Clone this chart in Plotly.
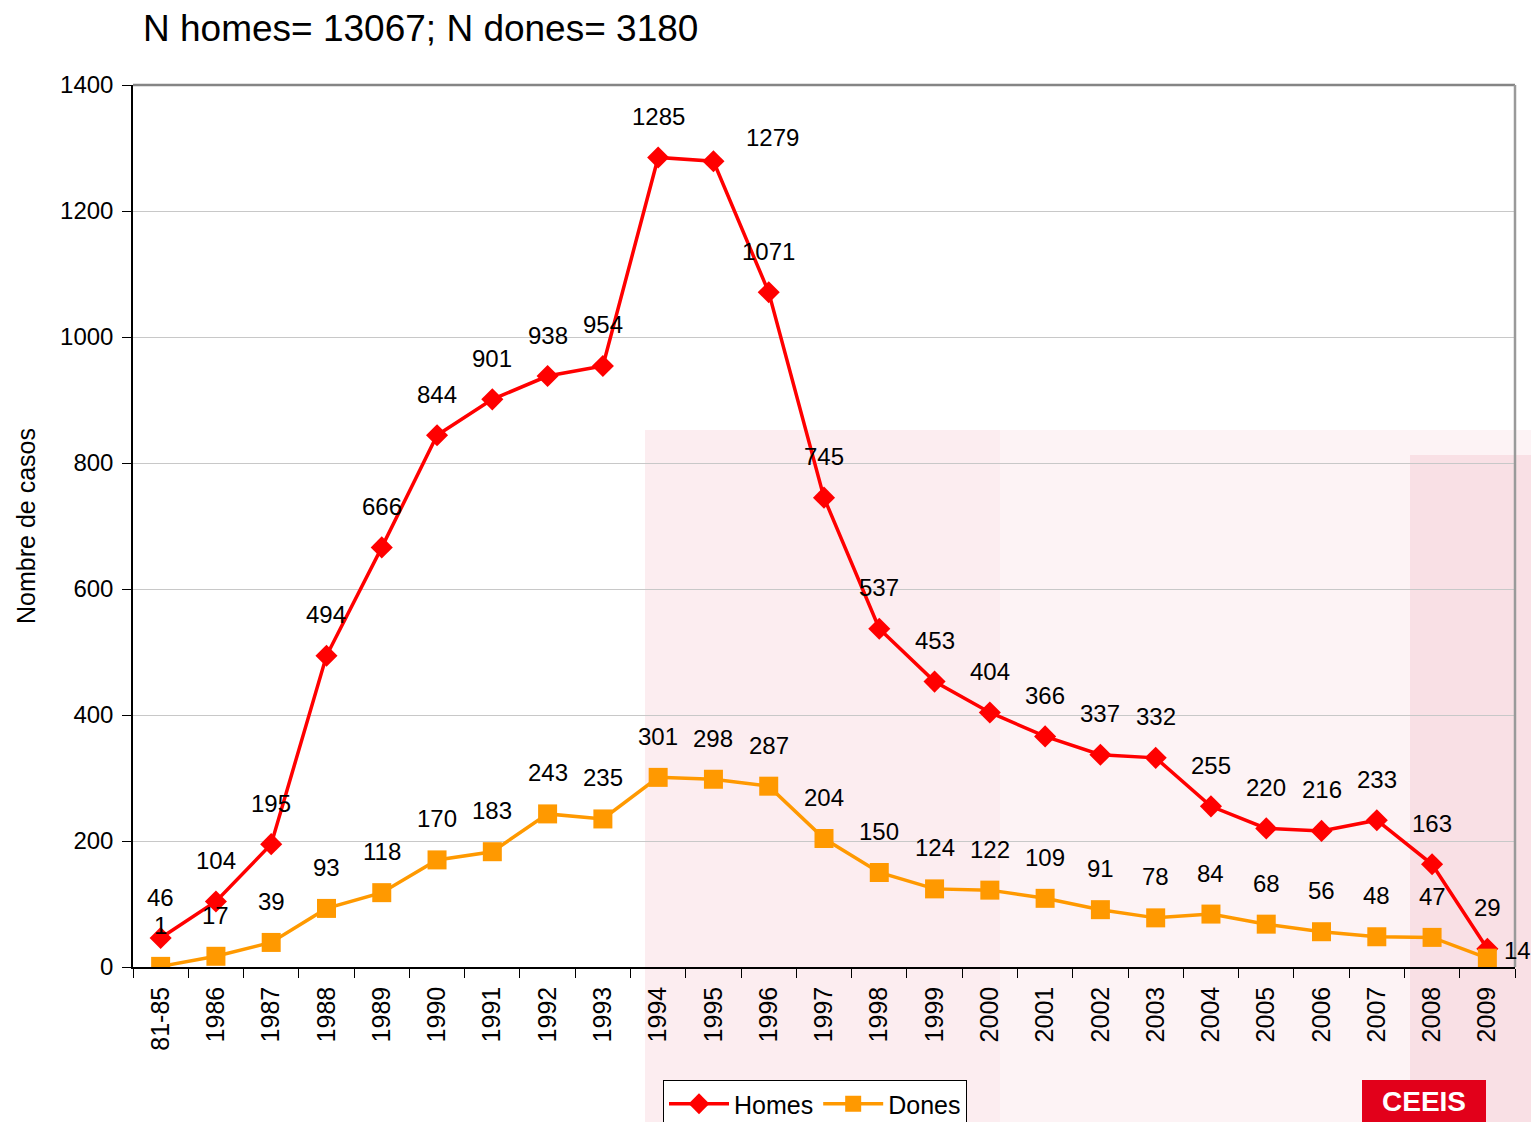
import plotly.graph_objects as go

categories = ["81-85", "1986", "1987", "1988", "1989", "1990", "1991", "1992", "1993",
              "1994", "1995", "1996", "1997", "1998", "1999", "2000", "2001", "2002",
              "2003", "2004", "2005", "2006", "2007", "2008", "2009"]
homes = [46, 104, 195, 494, 666, 844, 901, 938, 954, 1285, 1279, 1071, 745, 537, 453,
         404, 366, 337, 332, 255, 220, 216, 233, 163, 29]
dones = [1, 17, 39, 93, 118, 170, 183, 243, 235, 301, 298, 287, 204, 150, 124, 122,
         109, 91, 78, 84, 68, 56, 48, 47, 14]
y_ticks = [0, 200, 400, 600, 800, 1000, 1200, 1400]
title_text = "N homes= 13067; N dones= 3180"

W, H = 1531, 1122
ML, MR, MT, MB = 133, 16, 85, 155
PW, PH = W - ML - MR, H - MT - MB


def px(x):
    return (x - ML) / PW


def py(y):
    return (H - MB - y) / PH


FONT = "Liberation Sans, Arial, sans-serif"

fig = go.Figure()

# faint background watermark
wm = [
    (645, 430, 1531, 1140, "rgba(236,150,165,0.11)"),
    (1410, 455, 1531, 1140, "rgba(236,150,165,0.20)"),
    (645, 430, 1000, 1140, "rgba(236,150,165,0.06)"),
]
for x0, y0, x1, y1, c in wm:
    fig.add_shape(type="rect", xref="paper", yref="paper", x0=px(x0), x1=px(x1),
                  y0=py(y0), y1=py(y1), fillcolor=c, line_width=0, layer="below")

fig.add_trace(go.Scatter(
    x=categories, y=homes, name="Homes", mode="lines+markers",
    line=dict(color="#FF0000", width=3.5),
    marker=dict(symbol="diamond", size=17, color="#FF0000"),
))
fig.add_trace(go.Scatter(
    x=categories, y=dones, name="Dones", mode="lines+markers",
    line=dict(color="#FF9900", width=3.5),
    marker=dict(symbol="square", size=19, color="#FF9900"),
))

label_offsets = {("Homes", "1995"): (59, 24), ("Dones", "2009"): (30, 8)}
for name, vals in (("Homes", homes), ("Dones", dones)):
    for i, (c, v) in enumerate(zip(categories, vals)):
        xs, ys = label_offsets.get((name, c), (0, 41))
        fig.add_annotation(x=i, y=v, xref="x", yref="y", text=str(v), showarrow=False,
                           xshift=xs, yshift=ys, xanchor="center", yanchor="middle",
                           font=dict(family=FONT, size=24, color="black"))

# top and right border of plot area
fig.add_shape(type="line", xref="paper", yref="paper", x0=0, x1=1, y0=1, y1=1,
              line=dict(color="#858585", width=2.5), layer="above")
fig.add_shape(type="line", xref="paper", yref="paper", x0=1, x1=1, y0=0, y1=1,
              line=dict(color="#9A9A9A", width=2.5), layer="above")

# logo box
fig.add_shape(type="rect", xref="paper", yref="paper", x0=px(1362), x1=px(1486),
              y0=py(1080), y1=py(1140), fillcolor="#E2001A", line_width=0)
fig.add_annotation(xref="paper", yref="paper", x=px(1424), y=py(1101), text="<b>CEEIS</b>",
                   showarrow=False, xanchor="center", yanchor="middle",
                   font=dict(family=FONT, size=28, color="white"))

fig.update_layout(
    width=W, height=H, autosize=False,
    margin=dict(l=ML, r=MR, t=MT, b=MB, pad=0, autoexpand=False),
    paper_bgcolor="white", plot_bgcolor="rgba(0,0,0,0)",
    font=dict(family=FONT, size=24, color="black"),
    title=dict(text=title_text, x=143 / W, xanchor="left", xref="container",
               y=1 - 28 / H, yanchor="middle", yref="container",
               font=dict(family=FONT, size=37, color="black")),
    showlegend=True,
    legend=dict(orientation="h", x=px(663), y=py(1080), xanchor="left", yanchor="top",
                bgcolor="white", bordercolor="black", borderwidth=1,
                font=dict(family=FONT, size=25, color="black"),
                itemwidth=60, tracegroupgap=0),
    xaxis=dict(type="category", tickangle=-90, tickson="boundaries", ticks="outside",
               ticklen=9, tickcolor="black", showline=True, linecolor="black", linewidth=1.5,
               showgrid=False, tickfont=dict(family=FONT, size=25), range=[-0.5, 24.5],
               automargin=False, ticklabelstandoff=8),
    yaxis=dict(range=[0, 1400], tickvals=y_ticks, ticks="outside", ticklen=9,
               tickcolor="black", showline=True, linecolor="black", linewidth=1.5,
               showgrid=True, gridcolor="#C8C8C8", gridwidth=1, zeroline=False,
               tickfont=dict(family=FONT, size=24), automargin=False, ticklabelstandoff=4,
               title=dict(text="Nombre de casos", standoff=17,
                          font=dict(family=FONT, size=25))),
)

fig.write_html("out.html", config={"displayModeBar": False},
               post_script="document.body.style.margin='0';document.body.style.overflow='hidden';")
